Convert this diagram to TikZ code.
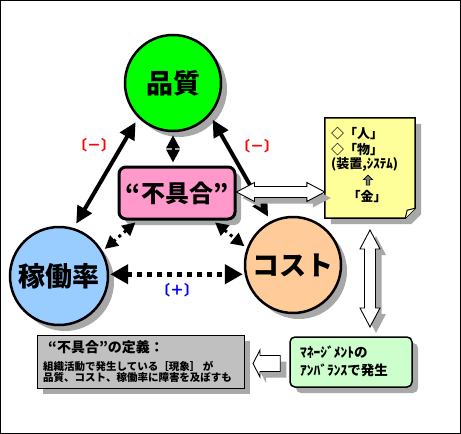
\documentclass[tikz,border=0pt]{standalone}
\usepackage{fontspec}
\setmainfont{Noto Sans CJK JP}
\usetikzlibrary{arrows.meta,shapes.arrows,shadows,calc}
\definecolor{qgreen}{HTML}{00FF00}
\definecolor{kblue}{HTML}{99CCFF}
\definecolor{corange}{HTML}{FFCC99}
\definecolor{ppink}{HTML}{FF99CC}
\definecolor{nyellow}{HTML}{FFFF99}
\definecolor{mgreen}{HTML}{CCFFCC}
\definecolor{ggray}{HTML}{C0C0C0}
\definecolor{shadowgray}{HTML}{A8A8A8}
\begin{document}
\begin{tikzpicture}[x=1pt,y=-1pt,
 shad/.style={drop shadow={shadow xshift=6pt,shadow yshift=-6pt,fill=shadowgray,opacity=1}},
 circ/.style={circle,draw=black,line width=2.5pt,minimum size=96pt,inner sep=0pt,shad,font=\bfseries\fontsize{27}{30}\selectfont},
 bigarr/.style={line width=4pt,{Triangle[length=17pt,width=16pt]}-{Triangle[length=17pt,width=16pt]},shorten <=5pt,shorten >=5pt},
 dotbig/.style={line width=5pt,dash pattern=on 5pt off 5pt,{Triangle[length=18pt,width=19pt]}-{Triangle[length=18pt,width=19pt]},shorten <=1pt,shorten >=1pt},
 dotsmall/.style={line width=3pt,dash pattern=on 3pt off 4pt,{Triangle[length=13pt,width=13pt]}-{Triangle[length=13pt,width=13pt]},shorten <=3pt,shorten >=3pt},
 hollow/.style={draw=black,fill=white,line width=0.9pt,line join=miter,shad},
 lbl/.style={font=\bfseries\fontsize{14}{14}\selectfont},
 nt/.style={font=\bfseries\fontsize{13}{13}\selectfont,inner sep=0pt}
]
\useasboundingbox (0,0) rectangle (461,434);
\draw[line width=1pt] (0.5,0.5) rectangle (460.5,433.5);

% circles
\node[circ,fill=qgreen] (Q) at (173,83) {品質};
\node[circ,fill=kblue,minimum size=98pt] (K) at (59,276) {稼働率};
\node[circ,fill=corange] (C) at (293,265) {コスト};

% central box
\node[draw=black,line width=3pt,rounded corners=7pt,fill=ppink,minimum width=116pt,minimum height=52pt,shad,
  font=\bfseries\fontsize{24}{26}\selectfont] (P) at (177,193) {“不具合”};

% thick arrows
\draw[bigarr] (Q.225) -- (K.73);
\draw[bigarr] (Q.319) -- (C.117);

% dotted arrows
\draw[dotbig] (K.2) -- (K.2 -| C.west);
\draw[dotsmall] (Q.south) -- (Q.south |- P.north);
\draw[dotsmall] ($(P.south west)!0.17!(P.south east)$) -- (K.30);
\draw[dotsmall] ($(P.south west)!0.80!(P.south east)$) -- (C.160);

% labels
\node[lbl,text=red] (m1) at (94,145) {〔－〕};
\node[lbl,text=red] (m2) at (257,146) {〔－〕};
\node[lbl,text=blue] (p1) at (177,290) {〔＋〕};

% note
\node[minimum width=90pt,minimum height=100pt,inner sep=0pt] (N) at (370,168) {};
\path[shad,fill=nyellow,draw=black,line width=1.5pt]
  (N.north west) -- (N.north east) -- ($(N.south east)+(0,-10)$) -- ($(N.south east)+(-10,0)$) -- (N.south west) -- cycle;
\draw[line width=1pt,fill=nyellow!60!white] ($(N.south east)+(-10,0)$) -- ($(N.south east)+(-8,-8)$) -- ($(N.south east)+(0,-10)$);
\node[nt,anchor=west] (n1) at (331,134) {◇「人」};
\node[nt,anchor=west] (n2) at (331,150) {◇「物」};
\node[nt,anchor=west] (n3) at (331,164) {(装置,ｼｽﾃﾑ)};
\node[single arrow,shape border rotate=90,draw=black,fill=gray,line width=0.6pt,minimum height=10pt,minimum width=9pt,inner sep=1pt,single arrow head extend=2pt] (up) at (368,181) {};
\node[nt] (n5) at (367,197) {「金」};

% gray definition box
\node[draw=black,line width=1pt,fill=ggray,minimum width=207pt,minimum height=53pt,shad] (G) at (140.5,361.5) {};
\node[anchor=west,inner sep=0pt,font=\bfseries\fontsize{14}{14}\selectfont] (g1) at (48,347) {“不具合”の定義：};
\node[anchor=west,inner sep=0pt,font=\bfseries\fontsize{10.5}{10.5}\selectfont] (g2) at (43,366) {組織活動で発生している［現象］ が};
\node[anchor=west,inner sep=0pt,font=\bfseries\fontsize{10.5}{10.5}\selectfont] (g3) at (43,378) {品質、コスト、稼働率に障害を及ぼすも};

% green box
\node[draw=black,line width=1.5pt,rounded corners=5pt,fill=mgreen,minimum width=122pt,minimum height=50pt,shad] (M) at (351,362) {};
\node[anchor=west,inner sep=0pt,font=\bfseries\fontsize{13.5}{13.5}\selectfont] (t1) at (300,352) {ﾏﾈｰｼﾞﾒﾝﾄの};
\node[anchor=west,inner sep=0pt,font=\bfseries\fontsize{13.5}{13.5}\selectfont] (t2) at (300,370) {ｱﾝﾊﾞﾗﾝｽで発生};

% hollow arrows
\coordinate (Ha) at (P.east |- 0,192);
\coordinate (Hb) at (N.west |- 0,192);
\path[hollow] (Ha) -- ++(18,-9.5) -- ++(0,4) -- ($(Hb)+(-18,-5.5)$) -- ++(0,-4) -- (Hb)
  -- ++(-18,9.5) -- ++(0,-4) -- ($(Ha)+(18,5.5)$) -- ++(0,4) -- cycle;
\coordinate (Va) at (370,230);
\coordinate (Vb) at (370,327);
\path[hollow] (Va) -- ++(10,19) -- ++(-4.5,0) -- ($(Vb)+(5.5,-19)$) -- ++(4.5,0) -- (Vb)
  -- ++(-10,-19) -- ++(4.5,0) -- ($(Va)+(-5.5,19)$) -- ++(-4.5,0) -- cycle;
\coordinate (La) at (253,363.5);
\coordinate (Lb) at (M.west |- 0,363.5);
\path[hollow] (La) -- ++(7,-13.5) -- ++(0,5.5) -- ($(Lb)+(-9,-8)$) -- ++(0,16) -- ($(La)+(7,8)$) -- ++(0,5.5) -- cycle;
\end{tikzpicture}
\end{document}
